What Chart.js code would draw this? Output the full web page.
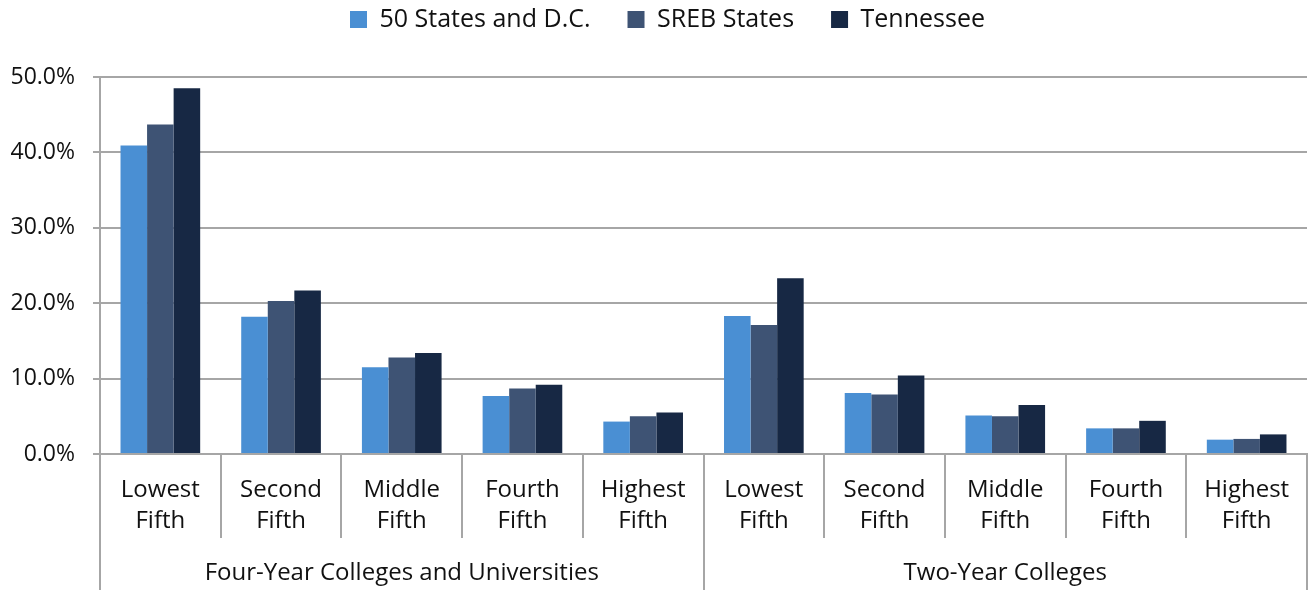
<!DOCTYPE html>
<html>
<head>
<meta charset="utf-8">
<script src="https://cdn.jsdelivr.net/npm/chart.js@4"></script>
<style>
  html, body { margin: 0; padding: 0; background: #fff; }
  #wrap { width: 1309px; height: 591px; }
</style>
</head>
<body>
<div id="wrap"><canvas id="chart"></canvas></div>
<script>
const categories = [
  ["Lowest", "Fifth"], ["Second", "Fifth"], ["Middle", "Fifth"], ["Fourth", "Fifth"], ["Highest", "Fifth"],
  ["Lowest", "Fifth"], ["Second", "Fifth"], ["Middle", "Fifth"], ["Fourth", "Fifth"], ["Highest", "Fifth"],
];
const groupNames = ["Four-Year Colleges and Universities", "Two-Year Colleges"];
const groupSizes = [5, 5];

const nation = [40.9, 18.2, 11.5, 7.7, 4.3, 18.3, 8.1, 5.1, 3.4, 1.9];
const sreb = [43.7, 20.3, 12.8, 8.7, 5.0, 17.1, 7.9, 5.0, 3.4, 2.0];
const tennessee = [48.5, 21.7, 13.4, 9.2, 5.5, 23.3, 10.4, 6.5, 4.4, 2.6];

const yMin = 0;
const yMax = 50;
const yStep = 10;

const FONT = "'Open Sans', sans-serif";
const TEXT = "#111";
const GRID = "#a6a6a6";

// group labels and long separators under the category labels
const groupAxis = {
  id: "groupAxis",
  afterLayout(chart) {
    // legend sits a little right of centre in the original
    chart.legend.left += 14;
    chart.legend.right += 14;
  },
  afterDraw(chart) {
    const { ctx, chartArea, scales } = chart;
    const x = scales.x;
    const half = (x.getPixelForValue(1) - x.getPixelForValue(0)) / 2;
    ctx.save();
    ctx.strokeStyle = GRID;
    ctx.lineWidth = 2;
    ctx.fillStyle = TEXT;
    ctx.font = "24px " + FONT;
    ctx.textAlign = "center";
    ctx.textBaseline = "middle";
    let start = 0;
    const edges = [x.getPixelForValue(0) - half];
    groupSizes.forEach((n, i) => {
      const end = start + n - 1;
      const left = x.getPixelForValue(start) - half;
      const right = x.getPixelForValue(end) + half;
      edges.push(right);
      ctx.fillText(groupNames[i], (left + right) / 2, 573);
      start += n;
    });
    edges.forEach((px) => {
      ctx.beginPath();
      ctx.moveTo(Math.round(px), chartArea.bottom);
      ctx.lineTo(Math.round(px), 590);
      ctx.stroke();
    });
    ctx.restore();
  },
};

new Chart(document.getElementById("chart"), {
  type: "bar",
  data: {
    labels: categories,
    datasets: [
      { label: "50 States and D.C.", data: nation, backgroundColor: "#4a8fd3" },
      { label: "SREB States", data: sreb, backgroundColor: "#3e5374" },
      { label: "Tennessee", data: tennessee, backgroundColor: "#172844" },
    ],
  },
  options: {
    responsive: true,
    maintainAspectRatio: false,
    animation: false,
    datasets: { bar: { categoryPercentage: 0.66, barPercentage: 1 } },
    layout: { padding: { top: -30, right: 2, left: 0, bottom: 0 } },
    plugins: {
      legend: {
        position: "top",
        labels: {
          font: { family: FONT, size: 25 },
          color: TEXT,
          boxWidth: 17,
          boxHeight: 17,
          padding: 37,
        },
      },
      // empty title used as a spacer between legend and plot
      title: {
        display: true,
        text: "",
        weight: 500,
        font: { size: 10, lineHeight: 1 },
        padding: { top: 25, bottom: 0 },
      },
      tooltip: { enabled: false },
    },
    scales: {
      x: {
        grid: { offset: true, drawOnChartArea: false, tickLength: 84, color: GRID, lineWidth: 2 },
        border: { color: GRID, width: 2 },
        ticks: {
          font: { family: FONT, size: 24, lineHeight: 1.29 },
          color: TEXT,
          padding: -63,
          maxRotation: 0,
          autoSkip: false,
        },
        afterFit: (s) => { s.height = 137; },
      },
      y: {
        min: yMin,
        max: yMax,
        grid: { color: GRID, lineWidth: 2, tickLength: 7 },
        border: { color: GRID, width: 2 },
        ticks: {
          stepSize: yStep,
          font: { family: FONT, size: 23 },
          color: TEXT,
          padding: 18,
          callback: (v) => v.toFixed(1) + "%",
        },
        afterFit: (s) => { s.width = 100; },
      },
    },
  },
  plugins: [groupAxis],
});
</script>
</body>
</html>
